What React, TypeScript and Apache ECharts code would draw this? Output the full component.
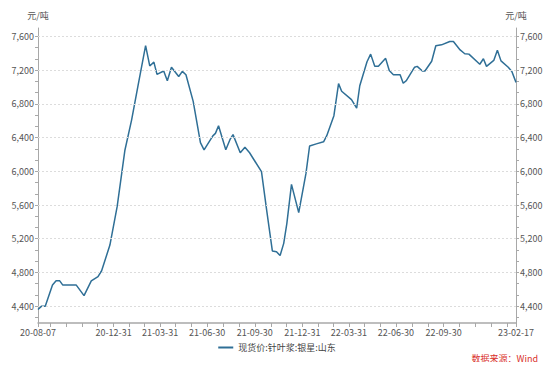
import React, { useEffect, useRef } from "react";
import * as echarts from "echarts";

const dates: string[] = [
  "2020-08-07", "2020-08-14", "2020-08-21", "2020-09-04", "2020-09-11", "2020-09-18", "2020-09-24",
  "2020-10-20", "2020-11-04", "2020-11-18", "2020-12-01", "2020-12-08", "2020-12-24",
  "2021-01-07", "2021-01-22", "2021-02-04", "2021-02-16", "2021-03-03", "2021-03-11", "2021-03-19",
  "2021-03-25", "2021-04-07", "2021-04-14", "2021-04-22", "2021-05-06", "2021-05-13", "2021-05-20",
  "2021-06-03", "2021-06-17", "2021-06-24", "2021-07-11", "2021-07-16", "2021-07-22", "2021-08-05",
  "2021-08-13", "2021-08-19", "2021-09-02", "2021-09-11", "2021-09-20", "2021-10-13", "2021-10-23",
  "2021-11-03", "2021-11-11", "2021-11-18", "2021-11-25", "2021-12-01", "2021-12-10", "2021-12-24",
  "2022-01-07", "2022-01-14", "2022-01-27", "2022-02-10", "2022-02-16", "2022-03-02", "2022-03-11",
  "2022-03-17", "2022-04-05", "2022-04-15", "2022-04-21", "2022-05-05", "2022-05-12", "2022-05-20",
  "2022-05-27", "2022-06-10", "2022-06-17", "2022-06-25", "2022-07-08", "2022-07-14", "2022-07-20",
  "2022-08-05", "2022-08-10", "2022-08-20", "2022-08-25", "2022-09-07", "2022-09-15", "2022-09-26",
  "2022-10-12", "2022-10-19", "2022-11-01", "2022-11-10", "2022-11-18", "2022-12-09", "2022-12-16",
  "2022-12-22", "2023-01-05", "2023-01-12", "2023-01-19", "2023-02-02", "2023-02-09", "2023-02-17",
];

const prices: number[] = [
  4360, 4400, 4400, 4650, 4700, 4700, 4650,
  4650, 4525, 4700, 4750, 4820, 5125,
  5580, 6250, 6610, 7005, 7490, 7250, 7295,
  7150, 7190, 7075, 7235, 7125, 7185, 7145,
  6830, 6340, 6255, 6420, 6450, 6540, 6255,
  6375, 6435, 6220, 6285, 6220, 5995, 5540,
  5055, 5045, 5000, 5145, 5380, 5845, 5510,
  5975, 6300, 6325, 6350, 6420, 6660, 7040,
  6950, 6850, 6750, 7015, 7300, 7390, 7245,
  7245, 7340, 7195, 7145, 7145, 7045, 7075,
  7235, 7245, 7190, 7190, 7305, 7490, 7500,
  7540, 7540, 7440, 7395, 7390, 7270, 7335,
  7245, 7315, 7435, 7310, 7235, 7185, 7055,
];

const yLabels: number[] = [4400, 4800, 5200, 5600, 6000, 6400, 6800, 7200, 7600];
const yMin = 4200;
const yMax = 7700;
const seriesName = "现货价:针叶浆:银星:山东";
const unitName = "元/吨";
const sourceText = "数据来源：Wind";

function allDays(start: string, end: string): string[] {
  const out: string[] = [];
  const s = new Date(start + "T00:00:00Z").getTime();
  const e = new Date(end + "T00:00:00Z").getTime();
  for (let t = s; t <= e; t += 86400000) {
    out.push(new Date(t).toISOString().slice(0, 10));
  }
  return out;
}

function isMonthEnd(d: string): boolean {
  const t = new Date(d + "T00:00:00Z").getTime() + 86400000;
  return new Date(t).getUTCMonth() !== new Date(d + "T00:00:00Z").getUTCMonth();
}

function isQuarterEnd(d: string): boolean {
  const m = Number(d.slice(5, 7));
  return isMonthEnd(d) && m % 3 === 0;
}

export default function App() {
  const ref = useRef<HTMLDivElement>(null);
  useEffect(() => {
    if (!ref.current) return;
    const chart = echarts.init(ref.current, undefined, { renderer: "svg" });
    const cats = allDays(dates[0], dates[dates.length - 1]);
    const last = cats.length - 1;
    const minorTicks: number[] = [];
    for (let v = yLabels[0] - 400; v <= yLabels[yLabels.length - 1]; v += 400) {
      for (const f of [1, 2]) {
        const mv = Math.round((v + (400 * f) / 3) * 1000) / 1000;
        if (mv > yMin && mv < yMax) minorTicks.push(mv);
      }
    }
    const allTicks = [...yLabels, ...minorTicks].sort((a, b) => a - b);
    const font = "'Noto Sans CJK SC', 'Noto Sans', sans-serif";
    const axisColor = "#a8a8a8";
    const makeY = (pos: "left" | "right") => ({
      type: "value",
      position: pos,
      min: yMin,
      max: yMax,
      name: unitName,
      nameLocation: "end",
      nameGap: 8,
      nameTextStyle: { color: "#555", fontSize: 9, fontFamily: font, align: "center" },
      axisLine: { show: true, lineStyle: { color: axisColor, width: 1 } },
      axisTick: { show: true, customValues: allTicks, length: 3, lineStyle: { color: axisColor } },
      axisLabel: {
        customValues: yLabels,
        color: "#555",
        fontSize: 9,
        fontFamily: font,
        margin: 4,
        formatter: (v: number) => v.toLocaleString("en-US"),
      },
      splitLine: { show: false },
    });
    chart.setOption({
      animation: false,
      textStyle: { fontFamily: font },
      grid: { left: 38, right: 38, top: 28, bottom: 47, containLabel: false },
      legend: {
        bottom: 13,
        left: "center",
        data: [{ name: seriesName, icon: "rect" }],
        itemWidth: 15,
        itemHeight: 2,
        itemGap: 6,
        textStyle: { color: "#444", fontSize: 9, fontFamily: font },
      },
      xAxis: {
        type: "category",
        data: cats,
        boundaryGap: false,
        axisLine: { lineStyle: { color: axisColor, width: 1.5 } },
        axisTick: {
          show: true,
          length: 4,
          interval: (i: number, v: string) => i === 0 || i === last || isMonthEnd(v),
          lineStyle: { color: axisColor },
        },
        axisLabel: {
          color: "#555",
          fontSize: 9,
          fontFamily: font,
          margin: 5,
          interval: (i: number, v: string) =>
            i === 0 || i === last || (isQuarterEnd(v) && i > 60 && i < last - 60),
          formatter: (v: string) => v.slice(2),
        },
        splitLine: { show: false },
      },
      yAxis: [makeY("left"), makeY("right")],
      series: [
        {
          name: seriesName,
          type: "line",
          data: dates.map((d, i) => [d, prices[i]]),
          symbol: "none",
          lineStyle: { color: "#2f6f96", width: 1.5 },
          itemStyle: { color: "#2f6f96" },
          markLine: {
            silent: true,
            symbol: "none",
            label: { show: false },
            lineStyle: { color: "#dcdcdc", type: [2, 2], width: 1 },
            data: yLabels.map((v) => ({ yAxis: v })),
          },
        },
      ],
      graphic: [
        {
          type: "text",
          right: 16,
          top: 354,
          style: {
            text: sourceText,
            fill: "#d9312b",
            fontSize: 9,
            fontFamily: font,
          },
        },
      ],
    });
    return () => chart.dispose();
  }, []);
  return <div ref={ref} style={{ width: 554, height: 370, margin: -8 }} />;
}
